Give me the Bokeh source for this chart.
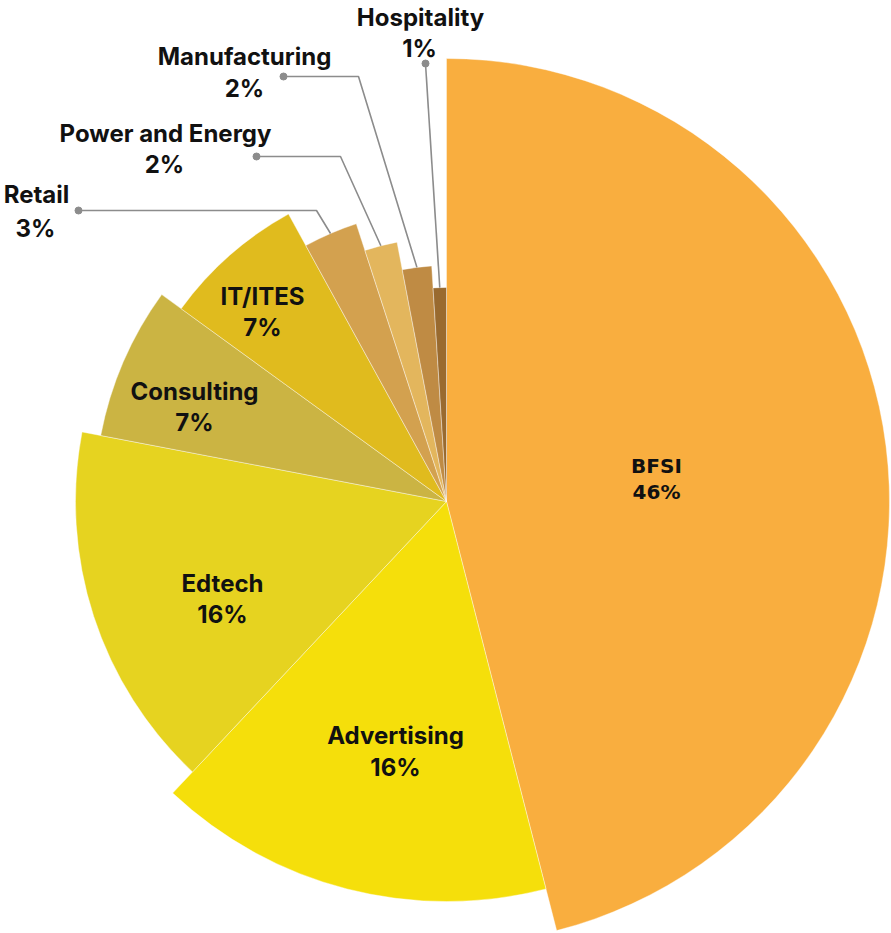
import math
from bokeh.plotting import figure
from bokeh.models import ColumnDataSource, Range1d
from bokeh.core.properties import value
from bokeh.embed import file_html
from bokeh.resources import INLINE

# ---------------- data ----------------
sectors = ["BFSI", "Advertising", "Edtech", "Consulting", "IT/ITES",
           "Retail", "Power and Energy", "Manufacturing", "Hospitality"]
shares = [46, 16, 16, 7, 7, 3, 2, 2, 1]            # percent
depth = [443, 400, 371, 352, 328, 292, 264, 236, 214]  # variable radius (z)
colors = ["#F9AE3F", "#F5DF0B", "#E6D320", "#CBB443", "#E0BB1E",
          "#D3A14F", "#E3B65D", "#BF8B44", "#996A2F"]

# ---------------- layout ----------------
W_REF, H_REF = 891, 933          # reference pixel space used as data space
CX, CY = 446, H_REF - 501        # pie centre

def fy(y):                        # reference pixel y -> data y
    return H_REF - y

total = float(sum(shares))
starts, ends, mids = [], [], []
acc = 0.0
for s in shares:
    a0 = math.pi / 2 - 2 * math.pi * acc / total
    acc += s
    a1 = math.pi / 2 - 2 * math.pi * acc / total
    starts.append(a0)
    ends.append(a1)
    mids.append((a0 + a1) / 2)

src = ColumnDataSource(dict(sector=sectors, share=shares, r=depth,
                            start=starts, end=ends, color=colors))

p = figure(width=891, height=933, output_backend="svg", toolbar_location=None,
           x_range=Range1d(0, W_REF), y_range=Range1d(0, H_REF),
           min_border=0)
p.axis.visible = False
p.grid.visible = False
p.outline_line_color = None
p.background_fill_color = "white"

p.wedge(x=CX, y=CY, radius="r", start_angle="start", end_angle="end",
        direction="clock", fill_color="color", line_color="white",
        line_width=0.4, source=src)

# leader lines for small slices (knee and dot positions are label layout)
leader = {
    "Retail": ((316, 210), (78, 210)),
    "Power and Energy": ((340, 156), (256, 156)),
    "Manufacturing": ((358, 76), (283, 76)),
    "Hospitality": ((425, 63), (425, 63)),
}
xs, ys, dx, dy = [], [], [], []
for i, name in enumerate(sectors):
    if name in leader:
        (kx, ky), (ex, ey) = leader[name]
        sx = CX + depth[i] * math.cos(mids[i])
        sy = CY + depth[i] * math.sin(mids[i])
        xs.append([sx, kx, ex])
        ys.append([sy, fy(ky), fy(ey)])
        dx.append(ex)
        dy.append(fy(ey))
p.multi_line(xs, ys, line_color="#8C8C8C", line_width=1.6)
p.scatter(dx, dy, size=7, color="#8C8C8C")

# label positions (name line, percent line) in reference pixels
label_pos = {
    "BFSI": ((656, 465), (656, 491)),
    "Advertising": ((395, 735), (395, 767)),
    "Edtech": ((222, 583), (222, 614)),
    "Consulting": ((194, 391), (194, 422)),
    "IT/ITES": ((262, 296), (262, 327)),
    "Retail": ((36, 194), (35, 228)),
    "Power and Energy": ((165, 133), (164, 164)),
    "Manufacturing": ((244, 56), (244, 88)),
    "Hospitality": ((420, 17), (419, 48)),
}
lx, ly, lt = [], [], []
for i, name in enumerate(sectors):
    if name == "BFSI":
        continue
    (ax, ay), (bx, by) = label_pos[name]
    lx += [ax, bx]
    ly += [fy(ay), fy(by)]
    lt += [name, f"{shares[i]}%"]
p.text(lx, ly, text=lt, text_align="center", text_baseline="middle",
       text_font=value("Inter"), text_font_style="bold",
       text_font_size="24px", text_color="#111111")

i = sectors.index("BFSI")
(ax, ay), (bx, by) = label_pos["BFSI"]
p.text([ax, bx], [fy(ay), fy(by)], text=["BFSI", f"{shares[i]}%"],
       text_align="center", text_baseline="middle",
       text_font=value("DejaVu Sans"), text_font_style="bold",
       text_font_size="20px", text_color="#111111")

open("out.html", "w").write(file_html(p, INLINE))
